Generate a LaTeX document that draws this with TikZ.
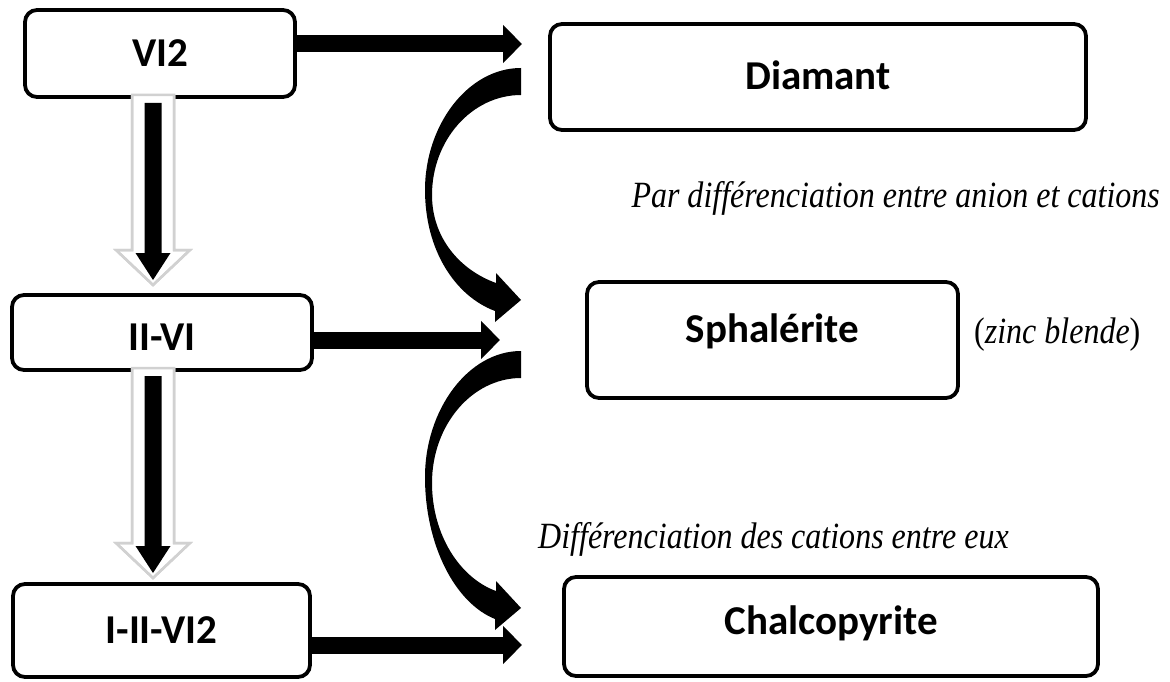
\documentclass[tikz,border=0pt]{standalone}
\usepackage{fontspec}
\setmainfont{Liberation Serif}
\newfontfamily\boxfont{Carlito}
\newfontfamily\notefont[FakeStretch=0.865]{Liberation Serif}
\usetikzlibrary{arrows.meta}

\tikzset{
  box/.style={draw=black, line width=3.8pt, rounded corners=12pt, fill=white,
    inner sep=0pt, text height=26pt, text depth=0pt,
    font=\boxfont\bfseries\fontsize{41}{48}\selectfont},
  harrow/.style={line width=17pt, -{Triangle[length=19pt,width=37pt]}},
  note/.style={inner sep=0pt, font=\notefont\fontsize{37}{42}\selectfont},
  shell/.style={fill=white, draw=black!18, line width=2.5pt, line join=miter},
  core/.style={fill=black},
  swoop/.style={fill=black}
}

% down arrow: white outlined shell with a black arrow inside
% #1 = x, #2 = top, #3 = tip of the shell
\newcommand{\shellarrow}[3]{%
  \fill[shell] (#1-21,#2) -- (#1-21,#3-35) -- (#1-37,#3-35) -- (#1,#3)
    -- (#1+37,#3-35) -- (#1+21,#3-35) -- (#1+21,#2) -- cycle;
  \fill[core] (#1-8.5,#2+8) -- (#1-8.5,#3-32) -- (#1-17.5,#3-32) -- (#1,#3-5)
    -- (#1+17.5,#3-32) -- (#1+8.5,#3-32) -- (#1+8.5,#2+8) -- cycle;
  \draw[shell, fill=none] (#1-21,#2) -- (#1-21,#3-35) -- (#1-37,#3-35) -- (#1,#3)
    -- (#1+37,#3-35) -- (#1+21,#3-35) -- (#1+21,#2);
}

\begin{document}
\begin{tikzpicture}[x=1pt, y=-1pt]
\useasboundingbox (0,0) rectangle (1170,682);

% boxes
\node[box, minimum width=270pt, minimum height=87pt]  (vi2)   at (160,53.5)  {VI2};
\node[box, minimum width=536pt, minimum height=106pt] (diam)  at (818,77)    {Diamant};
\node[box, minimum width=300pt, minimum height=75pt]  (iivi)  at (162,332.5) {\raisebox{-5pt}{II-VI}};
\node[box, minimum width=371pt, minimum height=116pt] (sphal) at (772.5,340) {\raisebox{11pt}{Sphalérite}};
\node[box, minimum width=297pt, minimum height=93pt]  (iiivi) at (161.5,630.5) {I-II-VI2};
\node[box, minimum width=534pt, minimum height=99pt]  (chalco) at (831,626.5) {\raisebox{5pt}{Chalcopyrite}};

% notes
\node[note, anchor=base east] (n1) at (1160,207) {\itshape Par différenciation entre anion et cations};
\node[note, anchor=base west] (n2) at (974,343) {(\textit{zinc blende})};
\node[note, anchor=base west] (n3) at (538,548) {\itshape Différenciation des cations entre eux};

% straight arrows towards the structures
\coordinate (t1) at (522,44);
\coordinate (t2) at (500,340);
\coordinate (t3) at (522,645);
\draw[harrow] (vi2.east |- t1) -- (t1);
\draw[harrow] (iivi.east |- t2) -- (t2);
\draw[harrow] (iiivi.east |- t3) -- (t3);

% down arrows between the families
\shellarrow{153}{95}{285}
\shellarrow{153}{368}{578}

% curved arrows between the structures
\fill[swoop] (521,68) .. controls (468,68) and (425,125) .. (425,190)
  .. controls (425,250) and (455,296) .. (495,311) -- (495,322) -- (521,300)
  -- (496,273) -- (496,283) .. controls (460,270) and (432,238) .. (432,195)
  .. controls (432,140) and (472,95) .. (521,95) -- cycle;
\fill[swoop] (521,351) .. controls (468,351) and (425,410) .. (425,477)
  .. controls (425,545) and (455,603) .. (495,619) -- (495,630) -- (521,608)
  -- (496,581) -- (496,591) .. controls (460,578) and (432,535) .. (432,483)
  .. controls (432,425) and (472,378) .. (521,378) -- cycle;
\end{tikzpicture}
\end{document}
